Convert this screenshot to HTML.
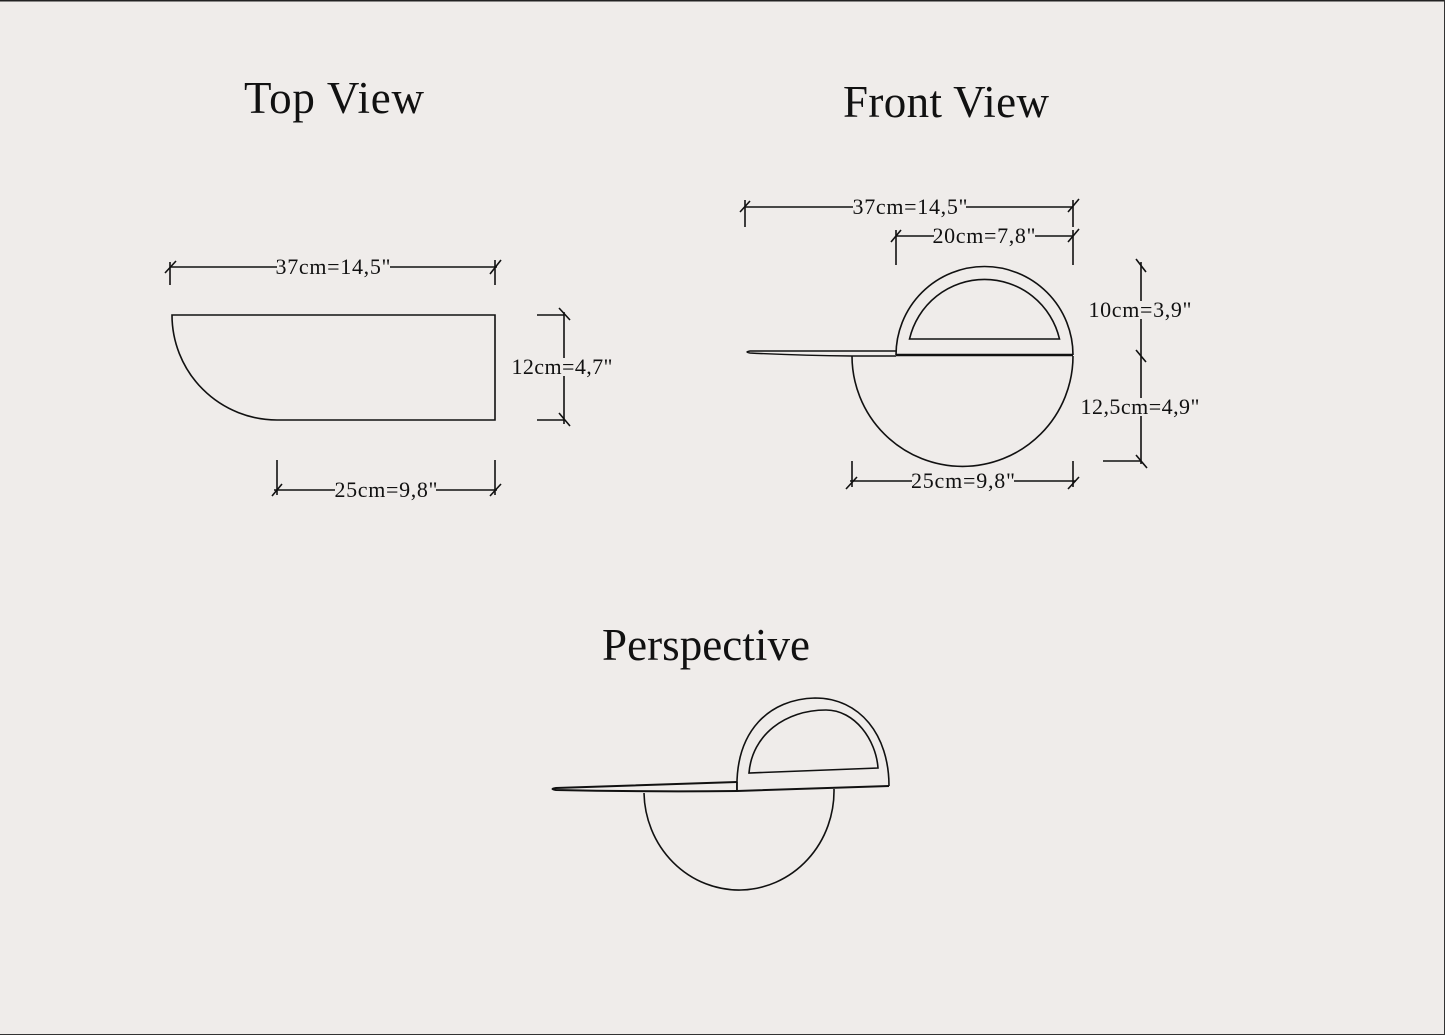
<!DOCTYPE html>
<html><head><meta charset="utf-8"><style>
html,body{margin:0;padding:0;background:#efecea;}
svg{display:block;}
text{font-family:"Liberation Serif",serif;fill:#111;}
.d{font-size:22px;}
.t{font-size:45px;}
</style></head><body>
<svg width="1445" height="1035" viewBox="0 0 1445 1035" xmlns="http://www.w3.org/2000/svg">
<rect x="0" y="0" width="1445" height="1035" fill="#efecea"/>
<line x1="0" y1="0.5" x2="1445" y2="0.5" stroke="#222" stroke-width="2"/>
<line x1="1444.5" y1="0" x2="1444.5" y2="1035" stroke="#333" stroke-width="1"/>
<line x1="0" y1="1034.5" x2="1445" y2="1034.5" stroke="#333" stroke-width="1"/>

<text class="t" x="334" y="113" text-anchor="middle" textLength="180">Top View</text>
<text class="t" x="946" y="117" text-anchor="middle" textLength="206">Front View</text>
<text class="t" x="706" y="660" text-anchor="middle" textLength="208">Perspective</text>

<g fill="none" stroke="#111" stroke-width="1.6">
<!-- Top view -->
<path d="M172,315 L495,315 L495,420 L277,420 A105,105 0 0 1 172,315 Z"/>
<line x1="170" y1="267" x2="497" y2="267"/>
<line x1="170" y1="262" x2="170" y2="285"/><line x1="165" y1="273" x2="176" y2="261"/>
<line x1="495" y1="260" x2="495" y2="285"/><line x1="490" y1="274" x2="501" y2="260"/>
<line x1="564" y1="312" x2="564" y2="424"/>
<line x1="537" y1="315" x2="564" y2="315"/><line x1="537" y1="420" x2="564" y2="420"/>
<line x1="559" y1="308" x2="570" y2="320"/><line x1="559" y1="413" x2="570" y2="426"/>
<line x1="274" y1="490" x2="497" y2="490"/>
<line x1="277" y1="460" x2="277" y2="495"/><line x1="272" y1="496" x2="282" y2="484"/>
<line x1="495" y1="460" x2="495" y2="495"/><line x1="490" y1="496" x2="501" y2="484"/>

<!-- Front view -->
<line x1="745" y1="207" x2="1073" y2="207"/>
<line x1="745" y1="200" x2="745" y2="227"/><line x1="740" y1="212" x2="750" y2="201"/>
<line x1="1073" y1="200" x2="1073" y2="227"/><line x1="1068" y1="212" x2="1079" y2="199"/>
<line x1="896" y1="236" x2="1073" y2="236"/>
<line x1="896" y1="230" x2="896" y2="265"/><line x1="891" y1="242" x2="901" y2="230"/>
<line x1="1073" y1="230" x2="1073" y2="265"/><line x1="1068" y1="242" x2="1079" y2="229"/>
<path d="M852,356 A110.5,110.5 0 0 0 1073,356"/>
<path d="M896,355 A88.5,88.5 0 0 1 1073,355"/>
<path d="M909.5,339 A77,77 0 0 1 1059.5,339 Z"/>
<line x1="896" y1="355" x2="1073" y2="355" stroke-width="2.4"/>
<path d="M896,351 L750,351 Q744,352 750,353 Q800,355.5 852,356 L896,356" stroke-width="1.4"/>
<line x1="1141" y1="262" x2="1141" y2="464"/>
<line x1="1136" y1="259" x2="1146" y2="272"/>
<line x1="1136" y1="350" x2="1146" y2="362"/>
<line x1="1103" y1="461" x2="1141" y2="461"/><line x1="1136" y1="455" x2="1147" y2="468"/>
<line x1="850" y1="481" x2="1076" y2="481"/>
<line x1="852" y1="461" x2="852" y2="487"/><line x1="846" y1="489" x2="857" y2="477"/>
<line x1="1073" y1="461" x2="1073" y2="487"/><line x1="1068" y1="489" x2="1079" y2="477"/>

<!-- Perspective -->
<path d="M644,793 A95,99 0 0 0 834,789"/>
<path d="M737,791 C735,730 770,699 815,698 C860,698 889,735 889,786"/>
<path d="M749,773 C752,735 785,710 826,710 C855,710 876,740 878,768 Z"/>
<path d="M737,782 L556,788 Q549,789 556,790 Q650,792 737,791 L889,786" stroke-width="2"/>
<line x1="737" y1="782" x2="737" y2="791"/>
</g>

<g fill="#efecea">
<rect x="277" y="258" width="113" height="18"/>
<rect x="513" y="358" width="99" height="18"/>
<rect x="335" y="481" width="101" height="18"/>
<rect x="853" y="198" width="113" height="18"/>
<rect x="934" y="227" width="101" height="18"/>
<rect x="1090" y="301" width="101" height="18"/>
<rect x="1082" y="398" width="117" height="18"/>
<rect x="912" y="472" width="102" height="18"/>
</g>
<text class="d" x="333" y="274" text-anchor="middle" textLength="115">37cm=14,5"</text>
<text class="d" x="562" y="374" text-anchor="middle" textLength="101">12cm=4,7"</text>
<text class="d" x="386" y="497" text-anchor="middle" textLength="103">25cm=9,8"</text>
<text class="d" x="910" y="214" text-anchor="middle" textLength="115">37cm=14,5"</text>
<text class="d" x="984" y="243" text-anchor="middle" textLength="103">20cm=7,8"</text>
<text class="d" x="1140" y="317" text-anchor="middle" textLength="103">10cm=3,9"</text>
<text class="d" x="1140" y="414" text-anchor="middle" textLength="119">12,5cm=4,9"</text>
<text class="d" x="963" y="488" text-anchor="middle" textLength="104">25cm=9,8"</text>
</svg>
</body></html>
